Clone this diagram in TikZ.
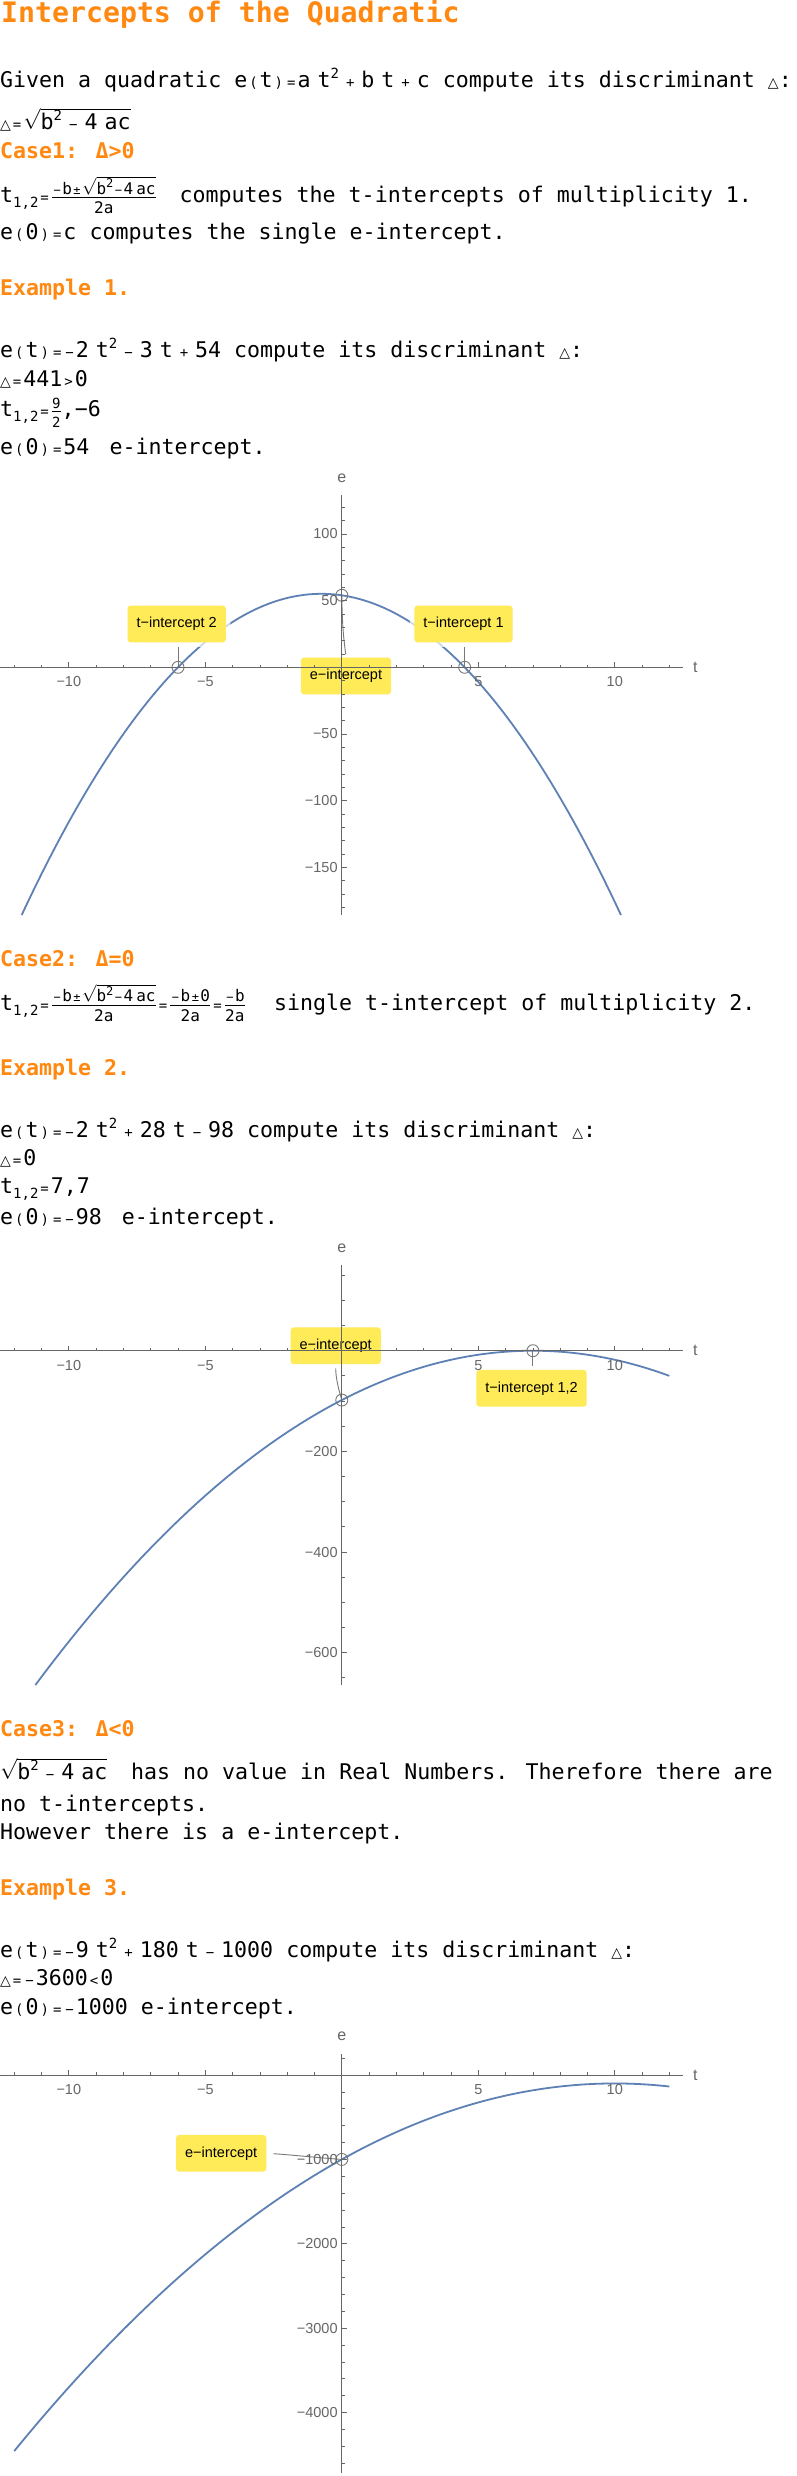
\documentclass[tikz,border=0pt]{standalone}
\usepackage{fontspec}
\setmainfont{Liberation Sans}
\newfontfamily\monof{DejaVu Sans Mono}
\newfontfamily\symf{DejaVu Sans}
\usepackage{tikz}

\definecolor{headorange}{RGB}{255,136,17}
\definecolor{calloutyellow}{RGB}{255,235,87}
\definecolor{curveblue}{RGB}{94,129,181}
\definecolor{axisgray}{RGB}{102,102,102}
\definecolor{leadgray}{RGB}{120,120,120}

\newcommand{\op}[1]{\kern2pt{\fontsize{14}{14}\selectfont#1}\kern2pt}
\newcommand{\bop}[1]{\kern7pt{\fontsize{14}{14}\selectfont#1}\kern7pt}
\newcommand{\ms}{\kern7pt}
\newcommand{\sups}[1]{\raisebox{9pt}{\fontsize{14}{14}\selectfont#1}}
\newcommand{\subs}[1]{\raisebox{-5pt}{\fontsize{14}{14}\selectfont#1}}
\newcommand{\tri}{{\symf\fontsize{14}{14}\selectfont △}}
\newcommand{\sm}{\fontsize{16}{16}\selectfont}
\newcommand{\sop}[1]{\kern1.5pt{\fontsize{12}{12}\selectfont#1}\kern1.5pt}
\newcommand{\ssup}[1]{\raisebox{6.5pt}{\fontsize{12}{12}\selectfont#1}}
\newcommand{\fr}[2]{$\frac{\hbox{\sm#1}}{\hbox{\sm\rule{0pt}{16pt}#2}}$}
\newcommand{\frn}[2]{$\frac{\hbox{\fontsize{14}{14}\selectfont#1}}{\hbox{\fontsize{14}{14}\selectfont\rule{0pt}{15pt}#2}}$}
\newcommand{\rt}[1]{$\sqrt{\hbox{#1}}$}

\begin{document}
\begin{tikzpicture}[x=1pt, y=-1pt,
    txt/.style={anchor=base west, inner sep=0pt, font=\monof\fontsize{21.6}{26}\selectfont},
    head/.style={txt, font=\monof\bfseries\fontsize{21.6}{26}\selectfont, text=headorange},
    title/.style={txt, font=\monof\bfseries\fontsize{28.2}{32}\selectfont, text=headorange},
    curve/.style={draw=curveblue, line width=1.8pt},
    axis/.style={draw=axisgray, line width=0.8pt},
    ticklab/.style={inner sep=0pt, text=axisgray, font=\fontsize{14.5}{16}\selectfont},
    axislab/.style={inner sep=0pt, text=axisgray, font=\fontsize{16}{18}\selectfont},
    callout/.style={fill=calloutyellow, rounded corners=3pt, inner xsep=9pt, inner ysep=0pt,
      minimum height=36.7pt, font=\fontsize{14.5}{16}\selectfont,
      preaction={draw=white, line width=9pt, draw opacity=0.7}},
    ring/.style={circle, draw=leadgray, line width=0.9pt, minimum size=12pt, inner sep=0pt},
    leader/.style={draw=leadgray, line width=0.9pt, shorten >=4pt}]
  \fill[white, use as bounding box] (0,0) rectangle (796,2476);

  \node[title] (title) at (1,22.7) {Intercepts of the Quadratic};
  \node[txt] (given) at (0,87.3) {Given a quadratic e\op{(}t\op{)}\op{=}a\ms t\sups{2}\bop{+}b\ms t\bop{+}c compute its discriminant \tri:};
  \node[txt] (disc) at (0,129.3) {\tri\op{=}\rt{b\sups{2}\bop{−}4\ms ac}};
  \node[head] (case1) at (0,158.3) {Case1: Δ>0};
  \node[txt] (roots1) at (0,202.3) {t\subs{1,2}\op{=}\fr{\sop{−}b\sop{±}\rt{b\ssup{2}\sop{−}4\kern3pt ac}}{2a}};
  \node[txt] (roots1t) at (179.5,202.3) {computes the t-intercepts of multiplicity 1.};
  \node[txt] (single1) at (0,239.3) {e\op{(}0\op{)}\op{=}c computes the single e-intercept.};

  \node[head] (ex1) at (0,295) {Example 1.};
  \node[txt] (eq1) at (0,357.3) {e\op{(}t\op{)}\op{=}\op{−}2\ms t\sups{2}\bop{−}3\ms t\bop{+}54 compute its discriminant \tri:};
  \node[txt] (d1) at (0,386) {\tri\op{=}441\op{>}0};
  \node[txt] (r1) at (0,416.7) {t\subs{1,2}\op{=}\frn{9}{2},−6};
  \node[txt] (e1) at (0,454) {e\op{(}0\op{)}\op{=}54\ms\ e-intercept.};

  % plot 1
  \begin{scope}[shift={(341.8pt,-667.3pt)}, x=27.3pt, y=1.3333pt]
    \draw[curve] plot[domain=-11.726:10.226, samples=120] (\x, {-2*\x*\x-3*\x+54});
    \node[callout] (ti2) at (-6.048,32.5) {t−intercept 2};
    \node[callout] (ti1) at (4.458,32.5) {t−intercept 1};
    \node[callout] (ei1) at (0.154,-6.5) {e−intercept};
    \node[ring] (p2) at (-6,0) {};
    \node[ring] (p1) at (4.5,0) {};
    \node[ring] (p0) at (0,54) {};
    \draw[leader] (p2.center) -- (p2.center |- ti2.south);
    \draw[leader] (p1.center) -- (p1.center |- ti1.south);
    \draw[leader, shorten >=3pt] (p0.center) .. controls +(0.5pt,-35pt) and +(-2pt,18pt) .. (ei1.north);
    \draw[axis] (-12.52,0) -- (12.5,0);
    \draw[axis] (0,-185.8) -- (0,129.2);
    \foreach \t in {-12,...,12}
      \draw[axis] (\t,0) -- ++(0pt,2.7pt);
    \foreach \t/\s in {-10/−10,-5/−5,5/5,10/10}
    {
      \draw[axis] (\t,0) -- ++(0pt,5pt);
      \node[ticklab, anchor=base] at ([yshift=-19.4pt]\t,0) {\s};
    }
    \foreach \e in {-180,-170,...,120}
      \draw[axis] (0,\e) -- ++(2.7pt,0pt);
    \foreach \e/\s in {-150/−150,-100/−100,-50/−50,50/50,100/100}
    {
      \draw[axis] (0,\e) -- ++(5pt,0pt);
      \node[ticklab, anchor=east] at ([xshift=-4pt]0,\e) {\s};
    }
    \node[axislab] (tlab1) at ([xshift=12.3pt]12.5,0) {t};
    \node[axislab] (elab1) at ([yshift=17pt]0,129.2) {e};
  \end{scope}

  \node[head] (case2) at (0,966.7) {Case2: Δ=0};
  \node[txt] (roots2) at (0,1010) {t\subs{1,2}\op{=}\fr{\sop{−}b\sop{±}\rt{b\ssup{2}\sop{−}4\kern3pt ac}}{2a}\op{=}\fr{\sop{−}b\sop{±}0}{2a}\op{=}\fr{\sop{−}b}{2a}};
  \node[txt] (roots2t) at (274,1010) {single t-intercept of multiplicity 2.};

  \node[head] (ex2) at (0,1075.7) {Example 2.};
  \node[txt] (eq2) at (0,1137.3) {e\op{(}t\op{)}\op{=}\op{−}2\ms t\sups{2}\bop{+}28\ms t\bop{−}98 compute its discriminant \tri:};
  \node[txt] (d2) at (0,1165) {\tri\op{=}0};
  \node[txt] (r2) at (0,1193.3) {t\subs{1,2}\op{=}7,7};
  \node[txt] (e2) at (0,1224) {e\op{(}0\op{)}\op{=}\op{−}98\ms\ e-intercept.};

  % plot 2
  \begin{scope}[shift={(341.8pt,-1350.7pt)}, x=27.3pt, y=0.5033pt]
    \draw[curve] plot[domain=-11.224:12, samples=120] (\x, {-2*(\x-7)*(\x-7)});
    \node[callout] (tc2) at (6.952,-74.7) {t−intercept 1,2};
    \node[callout] (ec2) at (-0.223,9.93) {e−intercept};
    \node[ring] (q1) at (7,0) {};
    \node[ring] (q0) at (0,-98) {};
    \draw[leader, shorten >=3.3pt] (q1.center) -- (q1.center |- tc2.north);
    \draw[leader] (q0.center) .. controls +(-3pt,10pt) and +(0pt,-14pt) .. (ec2.south);
    \draw[axis] (-12.52,0) -- (12.5,0);
    \draw[axis] (0,-664.2) -- (0,170.3);
    \foreach \t in {-12,...,12}
      \draw[axis] (\t,0) -- ++(0pt,2.7pt);
    \foreach \t/\s in {-10/−10,-5/−5,5/5,10/10}
    {
      \draw[axis] (\t,0) -- ++(0pt,5pt);
      \node[ticklab, anchor=base] at ([yshift=-19.4pt]\t,0) {\s};
    }
    \foreach \e in {-650,-600,...,150}
      \draw[axis] (0,\e) -- ++(2.7pt,0pt);
    \foreach \e/\s in {-600/−600,-400/−400,-200/−200}
    {
      \draw[axis] (0,\e) -- ++(5pt,0pt);
      \node[ticklab, anchor=east] at ([xshift=-4pt]0,\e) {\s};
    }
    \node[axislab] (tlab2) at ([xshift=12.3pt]12.5,0) {t};
    \node[axislab] (elab2) at ([yshift=16.7pt]0,170.3) {e};
  \end{scope}

  \node[head] (case3) at (0,1736.7) {Case3: Δ<0};
  \node[txt] (noroot) at (0,1779.3) {\rt{b\sups{2}\bop{−}4\ms ac}};
  \node[txt] (noroott) at (131,1779.3) {has no value in Real Numbers. Therefore there are};
  \node[txt] (nolead) at (0,1811.7) {no t-intercepts.};
  \node[txt] (however) at (0,1839.3) {However there is a e-intercept.};

  \node[head] (ex3) at (0,1895) {Example 3.};
  \node[txt] (eq3) at (0,1957.3) {e\op{(}t\op{)}\op{=}\op{−}9\ms t\sups{2}\bop{+}180\ms t\bop{−}1000 compute its discriminant \tri:};
  \node[txt] (d3) at (0,1985) {\tri\op{=}\op{−}3600\op{<}0};
  \node[txt] (e3) at (0,2014) {e\op{(}0\op{)}\op{=}\op{−}1000\ e-intercept.};

  % plot 3
  \begin{scope}[shift={(341.8pt,-2075pt)}, x=27.3pt, y=0.0844pt]
    \draw[curve] plot[domain=-12:12, samples=120] (\x, {-9*\x*\x+180*\x-1000});
    \node[callout] (ec3) at (-4.418,-927.7) {e−intercept};
    \node[ring] (s0) at (0,-1000) {};
    \draw[leader, shorten >=7pt] (s0.center) .. controls +(-15pt,1pt) and +(18pt,-1pt) .. (ec3.east);
    \draw[axis] (-12.52,0) -- (12.5,0);
    \draw[axis] (0,-4719) -- (0,249);
    \foreach \t in {-12,...,12}
      \draw[axis] (\t,0) -- ++(0pt,2.7pt);
    \foreach \t/\s in {-10/−10,-5/−5,5/5,10/10}
    {
      \draw[axis] (\t,0) -- ++(0pt,5pt);
      \node[ticklab, anchor=base] at ([yshift=-19.4pt]\t,0) {\s};
    }
    \foreach \e in {-4600,-4400,...,200}
      \draw[axis] (0,\e) -- ++(2.7pt,0pt);
    \foreach \e/\s in {-4000/−4000,-3000/−3000,-2000/−2000,-1000/−1000}
    {
      \draw[axis] (0,\e) -- ++(5pt,0pt);
      \node[ticklab, anchor=east] at ([xshift=-4pt]0,\e) {\s};
    }
    \node[axislab] (tlab3) at ([xshift=12.3pt]12.5,0) {t};
    \node[axislab] (elab3) at ([yshift=17.3pt]0,249) {e};
  \end{scope}
\end{tikzpicture}
\end{document}
